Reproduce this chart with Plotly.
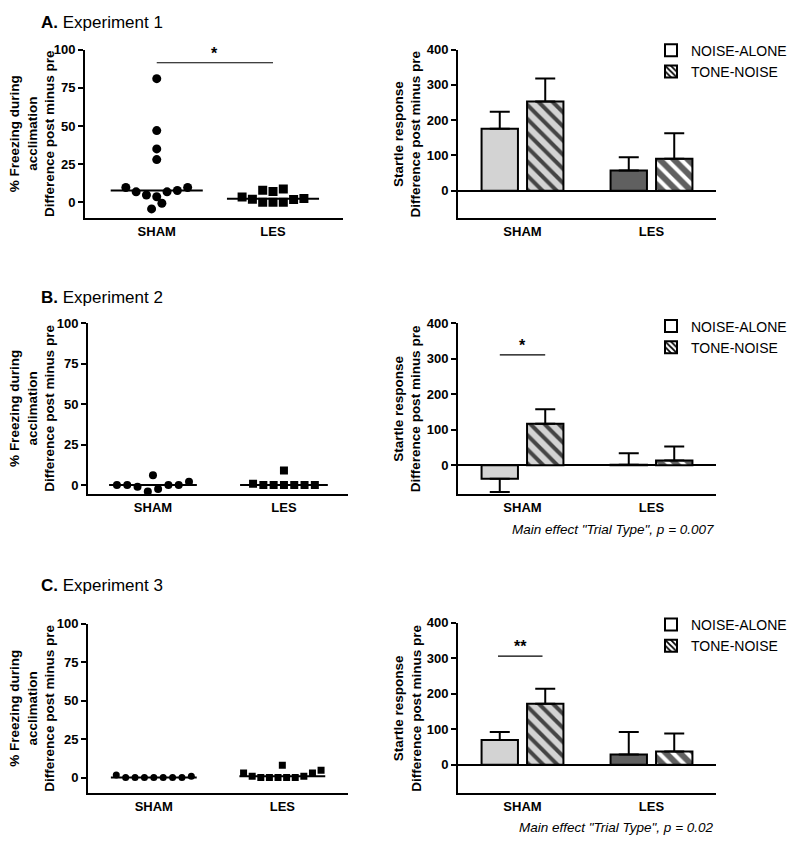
import statistics
import plotly.graph_objects as go

FONT = "Liberation Sans, Arial, sans-serif"
W, H = 800, 845

# ---------------- data ----------------
groups = ["SHAM", "LES"]
trial_types = ["NOISE-ALONE", "TONE-NOISE"]

# % freezing during acclimation (difference post minus pre), individual animals
exp1_sham = [81, 47, 35, 28, 9.7, 6.9, 4.8, 3.7, 6.9, 7.8, 9.7, -4.3, -0.6]
exp1_les = [3.5, 2.0, 8.0, 0, 7.1, 0, 8.7, 0, 1.8, 2.6]
exp2_sham = [0, 0, -1, -4, 6, -2.5, 0, 0, 2]
exp2_les = [0.8, 0, 0, 9, 0, 0, 0, 0]
exp3_sham = [1.7, 0, 0, 0, 0, 0, 0, 0, 0.9]
exp3_les = [3, 0.9, 0, 0, 0, 8, 0, 0, 0.9, 3, 4.7]

# startle response (difference post minus pre): means and SEM, [SHAM, LES]
exp1_noise = [176, 57]
exp1_noise_sem = [48, 38]
exp1_tone = [253, 91]
exp1_tone_sem = [65, 72]
exp2_noise = [-38, 1]
exp2_noise_sem = [37.5, 33]
exp2_tone = [117, 13]
exp2_tone_sem = [41, 40]
exp3_noise = [70, 29]
exp3_noise_sem = [22, 63]
exp3_tone = [172, 37]
exp3_tone_sem = [42, 51]

freeze_ticks = [0, 25, 50, 75, 100]
startle_ticks = [0, 100, 200, 300, 400]

# ---------------- layout helpers (scatter jitter slots) ----------------
exp1_sham_slots = [0, 0, 0, 0, -3, -2, -1, 0, 1, 2, 3, -0.5, 0.5]
exp1_les_slots = [-3, -2, -1, -1, 0, 0, 1, 1, 2, 3]
exp2_sham_slots = [-3.5, -2.5, -1.5, -0.5, 0, 0.5, 1.5, 2.5, 3.5]
exp2_les_slots = [-3, -2, -1, 0, 0, 1, 2, 3]
exp3_sham_slots = [-4, -3, -2, -1, 0, 1, 2, 3, 4]
exp3_les_slots = [-4.5, -3.5, -2.5, -1.5, -0.5, 0, 0.5, 1.5, 2.5, 3.5, 4.5]


def xd(a, b):
    return [a / W, b / W]


def yd(top, bot):
    return [1 - bot / H, 1 - top / H]


LIGHT = "#d3d3d3"
DARK = "#606060"

fig = go.Figure()

left_panels = [
    dict(n=1, xdom=(85, 343), ydom=(43, 213), yr=(-10.4, 100), xr=(-0.617, 1.602),
         sham=exp1_sham, sslots=exp1_sham_slots, les=exp1_les, lslots=exp1_les_slots,
         slot_s=0.0886, slot_l=0.0886, half=0.396, ms=9),
    dict(n=3, xdom=(88, 348), ydom=(319, 491), yr=(-5.5, 100), xr=(-0.496, 1.489),
         sham=exp2_sham, sslots=exp2_sham_slots, les=exp2_les, lslots=exp2_les_slots,
         slot_s=0.0786, slot_l=0.0786, half=0.335, ms=8),
    dict(n=5, xdom=(88, 348), ydom=(622, 793), yr=(-10.3, 100), xr=(-0.512, 1.511),
         sham=exp3_sham, sslots=exp3_sham_slots, les=exp3_les, lslots=exp3_les_slots,
         slot_s=0.073, slot_l=0.067, half=0.334, ms=7),
]

right_panels = [
    dict(n=2, ydom=(43, 213), yr=(-78, 400), noise=exp1_noise, nsem=exp1_noise_sem,
         tone=exp1_tone, tsem=exp1_tone_sem, legend="legend", leg_top=28),
    dict(n=4, ydom=(319, 491), yr=(-81, 400), noise=exp2_noise, nsem=exp2_noise_sem,
         tone=exp2_tone, tsem=exp2_tone_sem, legend="legend2", leg_top=306),
    dict(n=6, ydom=(621, 793), yr=(-81, 400), noise=exp3_noise, nsem=exp3_noise_sem,
         tone=exp3_tone, tsem=exp3_tone_sem, legend="legend3", leg_top=607),
]

layout = dict(
    width=W, height=H, margin=dict(l=0, r=0, t=0, b=0),
    paper_bgcolor="white", plot_bgcolor="white",
    font=dict(family=FONT, color="black"),
    barmode="group", bargap=0.295, bargroupgap=0.2,
    showlegend=True,
)

axis_common = dict(showgrid=False, showline=True, linecolor="black", linewidth=2,
                   mirror=False, fixedrange=True)
TICKFONT = dict(size=13, weight="bold")

for p in left_panels:
    n = p["n"]
    xa, ya = f"x{n}", f"y{n}"
    for gi, (vals, slots, sym, slot) in enumerate([
            (p["sham"], p["sslots"], "circle", p["slot_s"]),
            (p["les"], p["lslots"], "square", p["slot_l"])]):
        med = statistics.median(vals)
        fig.add_trace(go.Scatter(
            x=[gi - p["half"], gi + p["half"]], y=[med, med], mode="lines",
            line=dict(color="black", width=2), xaxis=xa, yaxis=ya, showlegend=False,
            hoverinfo="skip"))
        fig.add_trace(go.Scatter(
            x=[gi + s * slot for s in slots], y=vals, mode="markers",
            marker=dict(symbol=sym, size=p["ms"], color="black", line=dict(width=0)),
            xaxis=xa, yaxis=ya, showlegend=False))
    layout[f"xaxis{n}"] = dict(axis_common, domain=xd(*p["xdom"]), range=list(p["xr"]),
                               anchor=ya, tickvals=[0, 1], ticktext=groups, ticks="",
                               tickfont=TICKFONT, ticklabelstandoff=0, zeroline=False)
    layout[f"yaxis{n}"] = dict(axis_common, domain=yd(*p["ydom"]), range=list(p["yr"]),
                               anchor=xa, tickvals=freeze_ticks, ticks="outside", ticklen=5,
                               tickwidth=2, tickcolor="black", tickfont=TICKFONT,
                               zeroline=False)

for p in right_panels:
    n = p["n"]
    xa, ya = f"x{n}", f"y{n}"
    for name, means, sems, pattern in [
            (trial_types[0], p["noise"], p["nsem"], None),
            (trial_types[1], p["tone"], p["tsem"], "\\")]:
        plus = [s if m >= 0 else 0 for m, s in zip(means, sems)]
        minus = [s if m < 0 else 0 for m, s in zip(means, sems)]
        marker = dict(color=[LIGHT, DARK], line=dict(color="black", width=2))
        if pattern:
            marker["pattern"] = dict(shape=pattern, fgcolor="black", fgopacity=1,
                                     size=10, solidity=0.4, fillmode="overlay")
        fig.add_trace(go.Bar(
            x=[0, 1], y=means, name=name, marker=marker, xaxis=xa, yaxis=ya,
            showlegend=False,
            error_y=dict(type="data", symmetric=False, array=plus, arrayminus=minus,
                         color="black", thickness=2, width=10)))
    # legend entries (white swatches)
    for name, pattern in [(trial_types[0], None), (trial_types[1], "\\")]:
        marker = dict(color="white", line=dict(color="black", width=2))
        if pattern:
            marker["pattern"] = dict(shape=pattern, fgcolor="black", fgopacity=1,
                                     size=5, solidity=0.45, fillmode="overlay")
        fig.add_trace(go.Bar(x=[None], y=[None], name=name, marker=marker,
                             xaxis="x7", yaxis="y7", legend=p["legend"], showlegend=True))
    layout[f"xaxis{n}"] = dict(axis_common, domain=xd(458, 716), range=[-0.5, 1.5],
                               anchor=ya, tickvals=[0, 1], ticktext=groups, ticks="",
                               tickfont=TICKFONT, ticklabelstandoff=0, zeroline=False)
    layout[f"yaxis{n}"] = dict(axis_common, domain=yd(*p["ydom"]), range=list(p["yr"]),
                               anchor=xa, tickvals=startle_ticks, ticks="outside", ticklen=5,
                               tickwidth=2, tickcolor="black", tickfont=TICKFONT,
                               zeroline=True, zerolinecolor="black", zerolinewidth=2)
    layout[p["legend"]] = dict(x=651 / W, y=1 - p["leg_top"] / H, xanchor="left",
                               yanchor="top", bgcolor="rgba(0,0,0,0)",
                               font=dict(size=14, family=FONT), tracegroupgap=0,
                               itemclick=False, itemdoubleclick=False)

layout["xaxis7"] = dict(domain=[0, 0.001], visible=False, anchor="y7")
layout["yaxis7"] = dict(domain=[0, 0.001], visible=False, anchor="x7")

annotations = []
# panel titles
for label, title, ypx in [("A.", "Experiment 1", 16), ("B.", "Experiment 2", 293),
                          ("C.", "Experiment 3", 583)]:
    annotations.append(dict(text=f"<b>{label}</b> {title}", x=39 / W, y=1 - ypx / H,
                            xref="paper", yref="paper", xanchor="left", yanchor="middle",
                            showarrow=False, font=dict(size=17)))
# y titles
for p in left_panels:
    top, bot = p["ydom"]
    annotations.append(dict(
        text="<b>% Freezing during<br>acclimation<br>Difference post minus pre</b>",
        x=32 / W, y=1 - (top + bot) / 2 / H, xref="paper", yref="paper",
        xanchor="center", yanchor="middle", textangle=-90, showarrow=False,
        font=dict(size=13.5)))
for p in right_panels:
    top, bot = p["ydom"]
    annotations.append(dict(
        text="<b>Startle response<br>Difference post minus pre</b>",
        x=407.5 / W, y=1 - (top + bot) / 2 / H, xref="paper", yref="paper",
        xanchor="center", yanchor="middle", textangle=-90, showarrow=False,
        font=dict(size=13.5)))
# main effect notes
for txt, ypx in [('Main effect "Trial Type", p = 0.007', 527),
                 ('Main effect "Trial Type", p = 0.02', 827)]:
    annotations.append(dict(text=f"<i>{txt}</i>", x=716 / W, y=1 - ypx / H,
                            xref="paper", yref="paper", xanchor="right", yanchor="middle",
                            showarrow=False, font=dict(size=13.5)))

# significance markers: (axis number, x0, x1, y, text)
sig = [(1, 0, 1, 91.4, "*"), (4, -0.176, 0.176, 311, "*"), (6, -0.19, 0.155, 306, "**")]
shapes = []
for n, x0, x1, yv, txt in sig:
    shapes.append(dict(type="line", xref=f"x{n}", yref=f"y{n}", x0=x0, x1=x1, y0=yv, y1=yv,
                       line=dict(color="black", width=1.2)))
    annotations.append(dict(text=f"<b>{txt}</b>", x=(x0 + x1) / 2, y=yv, xref=f"x{n}",
                            yref=f"y{n}", xanchor="center", yanchor="bottom", yshift=-1,
                            showarrow=False, font=dict(size=16)))

layout["annotations"] = annotations
layout["shapes"] = shapes
fig.update_layout(**layout)

fig.write_html("out.html", config={"displayModeBar": False},
               post_script="document.body.style.margin='0px';document.body.style.padding='0px';")
